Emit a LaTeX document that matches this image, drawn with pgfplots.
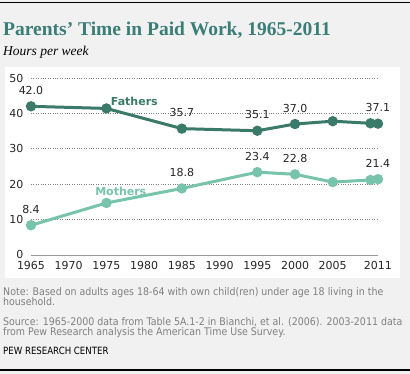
\documentclass[border=0pt]{standalone}
\usepackage{fontspec}
\setmainfont{DejaVu Sans}
\newfontfamily\titlefont{Liberation Serif}
\newfontfamily\notefont{DejaVu Sans}[FakeStretch=0.9]
\newfontfamily\pewfont{DejaVu Sans}[FakeStretch=0.86]
\usepackage{pgfplots}
\pgfplotsset{compat=1.18}
\definecolor{bg}{HTML}{F1F1F1}
\definecolor{fath}{HTML}{3A7A68}
\definecolor{moth}{HTML}{78C3AB}
\definecolor{ttl}{HTML}{3B7D77}
\definecolor{notec}{HTML}{808080}
\begin{document}
\begin{tikzpicture}[x=1pt,y=1pt]
\fill[bg] (0,0) rectangle (410,374);
\useasboundingbox (0,0) rectangle (410,374);
\draw[black,line width=1.2pt] (0,371.5) -- (410,371.5);
\draw[black,line width=1.2pt] (0,4) -- (410,4);
\fill[white] (5,96) rectangle (400,307);
\node[anchor=base west,inner sep=0,text=ttl] at (3,338) {\titlefont\fontsize{19.5}{22}\selectfont\bfseries Parents’ Time in Paid Work, 1965-2011};
\node[anchor=base west,inner sep=0] at (3,318) {\titlefont\fontsize{13.5}{16}\selectfont\itshape Hours per week};
\begin{axis}[
  at={(31pt,119pt)}, anchor=south west,
  scale only axis, width=347pt, height=177pt,
  xmin=1965, xmax=2011, ymin=0, ymax=50,
  xtick={1965,1970,1975,1980,1985,1990,1995,2000,2005,2011},
  xticklabels={1965,1970,1975,1980,1985,1990,1995,2000,2005,2011},
  ytick={10,20,30,40,50},
  extra y ticks={0},
  extra y tick style={grid style={solid,draw=gray!80,line width=0.9pt}},
  ymajorgrids,
  grid style={dotted,draw=gray!100,line width=0.6pt},
  axis line style={draw=none},
  major tick length=0pt,
  clip=false,
  tick label style={font=\fontsize{11}{12}\selectfont,text=black!85},
  /pgf/number format/assume math mode=true,
  yticklabel style={xshift=-4pt},
  xticklabel style={yshift=-3pt},
  nodes near coords,
  point meta=explicit symbolic,
  every node near coord/.append style={anchor=center,yshift=16pt,font=\fontsize{11}{12}\selectfont,text=black!85},
]
\addplot[color=moth,line width=3pt,mark=*,mark size=3.6pt,mark options={fill=moth,draw=moth}] coordinates {
 (1965,8.4) [8.4] (1975,14.7) [] (1985,18.8) [18.8] (1995,23.4) [23.4] (2000,22.8) [22.8] (2005,20.6) [] (2010,21.2) [] (2011,21.4) [21.4]};
\addplot[color=fath,line width=3pt,mark=*,mark size=3.6pt,mark options={fill=fath,draw=fath}] coordinates {
 (1965,42.0) [42.0] (1975,41.4) [] (1985,35.7) [35.7] (1995,35.1) [35.1] (2000,37.0) [37.0] (2005,37.8) [] (2010,37.2) [] (2011,37.1) [37.1]};
\node[text=fath,font=\fontsize{11}{12}\selectfont\bfseries] at (axis cs:1978.7,43.5) {Fathers};
\node[text=moth,font=\fontsize{11}{12}\selectfont\bfseries] at (axis cs:1976.9,18.1) {Mothers};
\end{axis}
\node[anchor=base west,inner sep=0,text=notec,align=left] at (3,78) {\notefont\fontsize{10.5}{10}\selectfont Note: Based on adults ages 18-64 with own child(ren) under age 18 living in the};
\node[anchor=base west,inner sep=0,text=notec] at (3,68) {\notefont\fontsize{10.5}{10}\selectfont household.};
\node[anchor=base west,inner sep=0,text=notec] at (3,48) {\notefont\fontsize{10.5}{10}\selectfont Source: 1965-2000 data from Table 5A.1-2 in Bianchi, et al. (2006). 2003-2011 data};
\node[anchor=base west,inner sep=0,text=notec] at (3,38) {\notefont\fontsize{10.5}{10}\selectfont from Pew Research analysis the American Time Use Survey.};
\node[anchor=base west,inner sep=0,text=black] at (3,19.5) {\pewfont\fontsize{10}{10}\selectfont PEW RESEARCH CENTER};
\end{tikzpicture}
\end{document}
